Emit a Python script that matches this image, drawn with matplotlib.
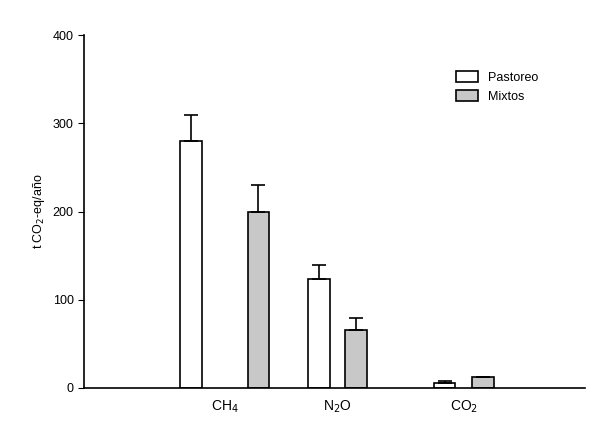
import matplotlib
matplotlib.use("Agg")
import matplotlib.pyplot as plt
import numpy as np

categories = ["CH$_4$", "N$_2$O", "CO$_2$"]
pastoreo = [280, 124, 6]
pastoreo_err = [29, 15, 2]
mixtos = [200, 66, 12]
mixtos_err = [30, 13, 0]

plt.rcParams['font.family'] = ['Liberation Sans', 'DejaVu Sans']
fig = plt.figure(figsize=(6, 4.33), dpi=100)
ax = fig.add_axes([0.14, 0.104, 0.835, 0.815])
x = np.arange(1, len(categories) + 1) + np.array([0.04, -0.02, 0.03])
w = 0.18
off = np.array([0.28, 0.155, 0.16])
ekw = dict(ecolor="black", capsize=5, elinewidth=1.2, capthick=1.2)
ax.bar(x - off, pastoreo, w, color="white", edgecolor="black", linewidth=1.2,
       yerr=[np.zeros(3), pastoreo_err], error_kw=ekw, label="Pastoreo")
ax.bar(x + off, mixtos, w, color="#c8c8c8", edgecolor="black", linewidth=1.2,
       yerr=[np.zeros(3), mixtos_err], error_kw=ekw, label="Mixtos")
ax.set_xlim(-0.133, 4.04)
ax.set_ylim(0, 400)
ax.set_yticks([0, 100, 200, 300, 400])
ax.set_xticks(x)
ax.set_xticklabels(categories, fontsize=10)
ax.tick_params(axis='x', length=0, pad=8)
ax.tick_params(axis='y', direction='out', length=4, labelsize=9)
for s in ["top", "right"]:
    ax.spines[s].set_visible(False)
ax.spines["left"].set_linewidth(1.2)
ax.spines["bottom"].set_linewidth(1.2)
ax.set_ylabel("t CO$_2$-eq/año", fontsize=9)
ax.legend(loc="upper left", bbox_to_anchor=(0.72, 0.93), frameon=False, fontsize=9,
          handlelength=1.8, handleheight=1.0)
fig.savefig("out.png", dpi=100)
